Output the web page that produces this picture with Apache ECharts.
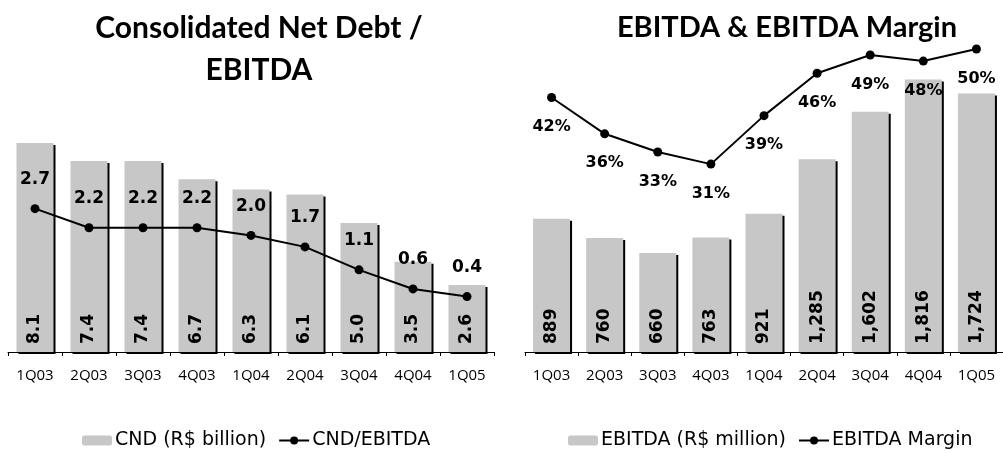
<!DOCTYPE html>
<html>
<head>
<meta charset="utf-8">
<script src="https://cdn.jsdelivr.net/npm/echarts@6/dist/echarts.min.js"></script>
<style>
  html, body { margin: 0; padding: 0; background: #fff; }
  #main { width: 1003px; height: 453px; }
</style>
</head>
<body>
<div id="main"></div>
<script>
// quarters shared by both panels
var quarters = ['1Q03', '2Q03', '3Q03', '4Q03', '1Q04', '2Q04', '3Q04', '4Q04', '1Q05'];
// left: consolidated net debt (R$ billion) and CND/EBITDA
var cndValues = [8.1, 7.4, 7.4, 6.7, 6.3, 6.1, 5.0, 3.5, 2.6];
var cndRatio = [2.7, 2.2, 2.2, 2.2, 2.0, 1.7, 1.1, 0.6, 0.4];
// right: EBITDA (R$ million) and EBITDA margin (%)
var ebitdaValues = [889, 760, 660, 763, 921, 1285, 1602, 1816, 1724];
var ebitdaMargin = [42, 36, 33, 31, 39, 46, 49, 48, 50];

var titleFont = 'Lato, "DejaVu Sans", sans-serif';
var labelFont = '"DejaVu Sans", sans-serif';
var axisFont = '"Open Sans", sans-serif';
var barColor = '#c7c7c7';

var chart = echarts.init(document.getElementById('main'), null, { renderer: 'canvas' });

function barStyle() {
  return {
    color: barColor,
    shadowColor: '#000',
    shadowBlur: 0,
    shadowOffsetX: 2,
    shadowOffsetY: 2
  };
}

var catAxis = function (gridIndex) {
  return {
    type: 'category',
    gridIndex: gridIndex,
    data: quarters,
    axisLine: { lineStyle: { color: '#000', width: 1 } },
    axisTick: { show: true, length: 4, lineStyle: { color: '#000' } },
    axisLabel: { color: '#000', fontSize: 15, fontFamily: axisFont, margin: 16 }
  };
};

var option = {
  animation: false,
  title: [
    {
      text: 'Consolidated Net Debt /\nEBITDA',
      left: 254,
      top: 2,
      textAlign: 'center',
      textStyle: { fontFamily: titleFont, fontWeight: 'bold', fontSize: 30, lineHeight: 42, color: '#000' }
    },
    {
      text: 'EBITDA & EBITDA Margin',
      left: 782,
      top: 2,
      textAlign: 'center',
      textStyle: { fontFamily: titleFont, fontWeight: 'bold', fontSize: 29, lineHeight: 42, color: '#000' }
    }
  ],
  legend: [
    {
      data: ['CND (R$ billion)', 'CND/EBITDA'],
      left: 77,
      top: 426,
      itemGap: 12,
      itemWidth: 30,
      itemHeight: 10,
      textStyle: { fontFamily: labelFont, fontSize: 19, color: '#000', padding: [0, 0, 0, -2] }
    },
    {
      data: ['EBITDA (R$ million)', 'EBITDA Margin'],
      left: 563,
      top: 426,
      itemGap: 12,
      itemWidth: 30,
      itemHeight: 10,
      textStyle: { fontFamily: labelFont, fontSize: 19, color: '#000', padding: [0, 0, 0, -2] }
    }
  ],
  grid: [
    { left: 8, top: 94, width: 486, height: 258 },
    { left: 525, top: 52, width: 480, height: 300 }
  ],
  xAxis: [catAxis(0), catAxis(1)],
  yAxis: [
    { type: 'value', gridIndex: 0, min: 0, max: 10, show: false, splitLine: { show: false } },
    { type: 'value', gridIndex: 0, min: -1.05, max: 5.7, show: false, splitLine: { show: false } },
    { type: 'value', gridIndex: 1, min: 0, max: 2000, show: false, splitLine: { show: false } },
    { type: 'value', gridIndex: 1, min: 0, max: 49.5, show: false, splitLine: { show: false } }
  ],
  series: [
    {
      name: 'CND (R$ billion)',
      type: 'bar',
      xAxisIndex: 0,
      yAxisIndex: 0,
      barWidth: 37,
      data: cndValues,
      itemStyle: barStyle(),
      label: {
        show: true,
        position: 'insideBottom',
        rotate: 90,
        align: 'left',
        verticalAlign: 'middle',
        distance: 8,
        fontFamily: labelFont,
        fontWeight: 'bold',
        fontSize: 17,
        color: '#000',
        formatter: function (p) { return p.value.toFixed(1); }
      }
    },
    {
      name: 'CND/EBITDA',
      type: 'line',
      xAxisIndex: 0,
      yAxisIndex: 1,
      data: cndRatio,
      symbol: 'circle',
      symbolSize: 9,
      clip: false,
      lineStyle: { color: '#000', width: 2 },
      itemStyle: { color: '#000' },
      label: {
        show: true,
        position: 'top',
        distance: 16,
        fontFamily: labelFont,
        fontWeight: 'bold',
        fontSize: 17,
        color: '#000',
        formatter: function (p) { return p.value.toFixed(1); }
      }
    },
    {
      name: 'EBITDA (R$ million)',
      type: 'bar',
      xAxisIndex: 1,
      yAxisIndex: 2,
      barWidth: 37,
      data: ebitdaValues,
      itemStyle: barStyle(),
      label: {
        show: true,
        position: 'insideBottom',
        rotate: 90,
        align: 'left',
        verticalAlign: 'middle',
        distance: 8,
        fontFamily: labelFont,
        fontWeight: 'bold',
        fontSize: 17,
        color: '#000',
        formatter: function (p) { return p.value.toLocaleString('en-US'); }
      }
    },
    {
      name: 'EBITDA Margin',
      type: 'line',
      xAxisIndex: 1,
      yAxisIndex: 3,
      data: ebitdaMargin,
      symbol: 'circle',
      symbolSize: 9,
      clip: false,
      lineStyle: { color: '#000', width: 2 },
      itemStyle: { color: '#000' },
      label: {
        show: true,
        position: 'bottom',
        distance: 17,
        fontFamily: labelFont,
        fontWeight: 'bold',
        fontSize: 16,
        color: '#000',
        formatter: function (p) { return p.value + '%'; }
      }
    }
  ]
};

chart.setOption(option);
</script>
</body>
</html>
